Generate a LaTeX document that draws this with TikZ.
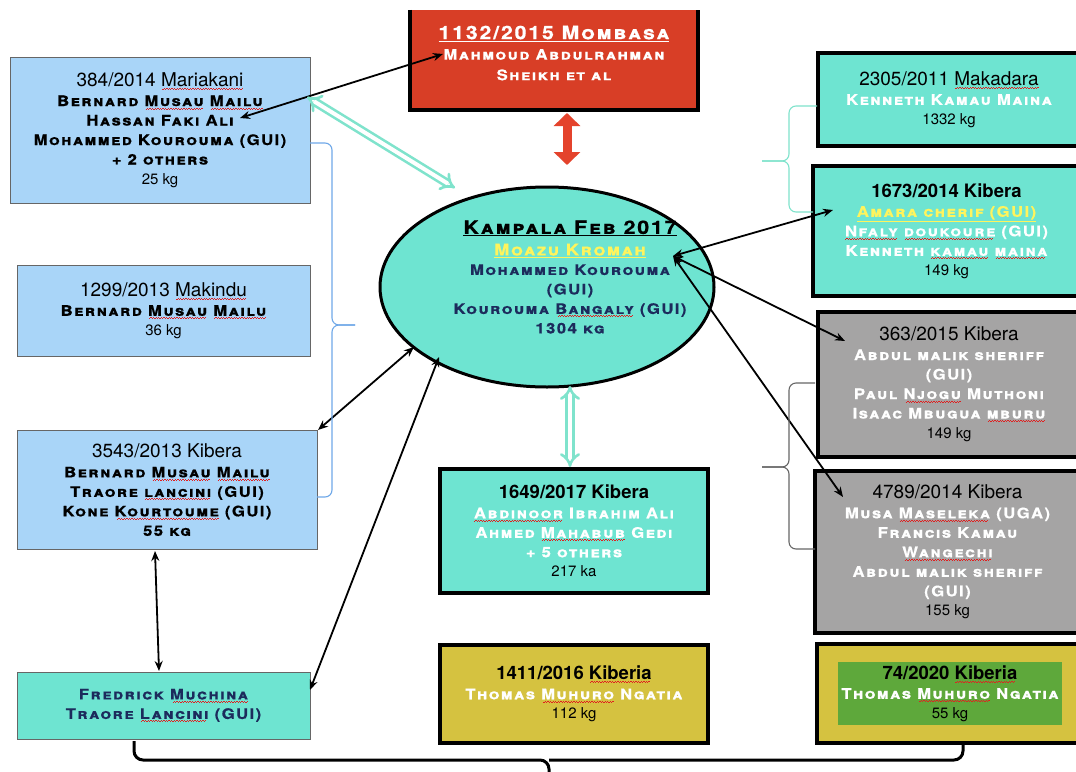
\documentclass[tikz,border=0pt]{standalone}
\usepackage{fontspec}
\usetikzlibrary{arrows.meta,shapes.geometric}
\setmainfont{TeX Gyre Heros}
\newfontfamily\cpf{TeX Gyre Heros}[Letters=SmallCaps,LetterSpace=10,FakeStretch=1.15,FakeBold=0.6]
\definecolor{lblue}{HTML}{A9D5F8}
\definecolor{tealc}{HTML}{6EE4D1}
\definecolor{redc}{HTML}{D83E26}
\definecolor{redl}{HTML}{E4432C}
\definecolor{grayc}{HTML}{A5A4A4}
\definecolor{olive}{HTML}{D5C240}
\definecolor{greenc}{HTML}{5EA83B}
\definecolor{yel}{HTML}{FFF45C}
\definecolor{navy}{HTML}{1C2B5C}
\definecolor{tealln}{HTML}{7FE3CC}
\definecolor{blueln}{HTML}{6FA8E8}
\definecolor{sqred}{HTML}{E02020}
\newsavebox\sqbox
\newcommand\wv{\hbox{\rule[-3.2pt]{1.3pt}{0.7pt}\rule[-2.2pt]{1.3pt}{0.7pt}}}
\newcommand\sq[1]{\sbox\sqbox{#1}\rlap{\usebox\sqbox}{\color{sqred}\leaders\wv\hskip\wd\sqbox}}
\newcommand\ul[1]{\underline{#1}}
\newcommand\ttl{\normalfont\color{black}\fontsize{19}{19.5}\selectfont}
\newcommand\ttlb{\normalfont\bfseries\color{black}\fontsize{18.5}{19.5}\selectfont}
\newcommand\kgf{\normalfont\color{black}\fontsize{15}{19.5}\selectfont}
\newcommand\nmf{\cpf\bfseries\fontsize{14.5}{19.5}\selectfont}
\begin{document}
\begin{tikzpicture}[x=1pt,y=-1pt,
  lb/.style={draw=black!60, line width=1, fill=lblue, inner sep=0, align=center, font=\nmf, text=black},
  tb/.style={draw=black, line width=4, fill=tealc, inner sep=0, align=center, font=\nmf, text=white},
  gb/.style={draw=black, line width=4, fill=grayc, inner sep=0, align=center, font=\nmf, text=white},
  ob/.style={draw=black, line width=4, fill=olive, inner sep=0, align=center, font=\nmf, text=white},
  arr/.style={line width=1.8, {Stealth[length=10pt,width=8pt]}-{Stealth[length=10pt,width=8pt]}},
  hollow/.style={draw=tealln, double=white, double distance=4pt, line width=2.6, {Implies[scale=1.6]}-{Implies[scale=1.6]}},
  brc/.style={rounded corners=7, line width=1.1}]
\useasboundingbox (0,0) rectangle (1076,771);
\fill[white] (0,0) rectangle (1076,771);

% boxes
\node[lb, minimum width=300, minimum height=146] (mar) at (160,130)
 {{\ttl 384/2014 \sq{Mariakani}}\\ Bernard \sq{Musau} \sq{Mailu}\\ Hassan Faki Ali\\ Mohammed Kourouma (GUI)\\ + 2 others\\ {\kgf 25 kg}};

\node[fill=redc, minimum width=288, minimum height=100, inner sep=0] (mom) at (554,60) {};
\draw[line width=4] (mom.north west) -- (mom.south west) -- (mom.south east) -- (mom.north east);
\node[align=center, text=white, font=\nmf, inner sep=0] (momt) at (554,53)
 {{\fontsize{18.5}{21}\selectfont\ul{1132/2015 Mombasa}}\\[1pt] Mahmoud Abdulrahman\\[1pt] Sheikh et al};

\node[tb, minimum width=262, minimum height=93] (mak) at (949,99.5)
 {{\ttl 2305/2011 \sq{Makadara}}\\ Kenneth Kamau Maina\\ {\kgf 1332 kg}};

\node[tb, minimum width=267, minimum height=130] (k1673) at (946.5,231)
 {{\ttlb 1673/2014 Kibera}\\ {\color{yel}\ul{Amara cherif (GUI)}}\\ \sq{Nfaly} \sq{doukoure} (GUI)\\ Kenneth \sq{kamau} \sq{maina}\\ {\kgf 149 kg}};

\node[gb, minimum width=262, minimum height=145] (k363) at (949,384)
 {{\ttl 363/2015 Kibera}\\ Abdul malik sheriff\\ (GUI)\\ Paul \sq{Njogu} Muthoni\\ Isaac Mbugua \sq{mburu}\\ {\kgf 149 kg}};

\node[gb, minimum width=265, minimum height=162] (k4789) at (947.5,552)
 {{\ttl 4789/2014 Kibera}\\ Musa \sq{Maseleka} (UGA)\\ Francis Kamau\\ \sq{Wangechi}\\ Abdul malik sheriff\\ (GUI)\\ {\kgf 155 kg}};

\node[lb, minimum width=293, minimum height=91] (mkd) at (163.5,310.5)
 {{\ttl 1299/2013 \sq{Makindu}}\\ Bernard \sq{Musau} \sq{Mailu}\\ {\kgf 36 kg}};

\node[lb, minimum width=300, minimum height=119] (k3543) at (167,490)
 {{\ttl 3543/2013 Kibera}\\ Bernard \sq{Musau} \sq{Mailu}\\ Traore \sq{lancini} (GUI)\\ Kone \sq{Kourtoume} (GUI)\\ 55 kg};

\node[lb, fill=tealc, text=navy, minimum width=293, minimum height=67] (fred) at (163.5,705.5)
 {Fredrick \sq{Muchina}\\ Traore \sq{Lancini} (GUI)};

\node[tb, minimum width=268, minimum height=124] (k1649) at (574,531)
 {{\ttlb 1649/2017 Kibera}\\ \sq{Abdinoor} Ibrahim Ali\\ Ahmed \sq{Mahabub} Gedi\\ + 5 others\\ {\kgf 217 ka}};

\node[ob, minimum width=268, minimum height=98] (k1411) at (574,694)
 {{\ttlb 1411/2016 \sq{Kiberia}}\\ Thomas \sq{Muhuro} Ngatia\\ {\kgf 112 kg}};

\node[ob, minimum width=263, minimum height=99] (k74) at (948.5,693.5) {};
\node[fill=greenc, inner sep=0, minimum width=224, minimum height=63, align=center, font=\nmf, text=white] (k74in) at (950,693.5)
 {{\ttlb 74/2020 \sq{Kiberia}}\\ Thomas \sq{Muhuro} Ngatia\\ {\kgf 55 kg}};

% ellipse
\node[ellipse, draw=black, line width=3, fill=tealc, minimum width=334, minimum height=200, inner sep=0] (ell) at (547,287) {};
\node[align=center, font=\nmf, text=navy, inner sep=0] (ellt) at (570,277)
 {{\color{black}\fontsize{18.5}{20}\selectfont\ul{Kampala Feb 2017}}\\[2pt]
  {\color{yel}\fontsize{16}{19}\selectfont\ul{Moazu Kromah}}\\
  Mohammed Kourouma\\ (GUI)\\ Kourouma \sq{Bangaly} (GUI)\\ 1304 kg};

% coordinates
\coordinate (pmar) at (240,118);
\coordinate (pmom) at (443,54);
\coordinate (hm1) at (307,97);
\coordinate (he1) at (455,188);
\coordinate (r1) at (567,113);
\coordinate (r2) at (567,165);
\coordinate (p3543) at (318,430);
\coordinate (e3543) at (414,347);
\coordinate (pfred) at (310,690);
\coordinate (efred) at (439,357);
\coordinate (b3543) at (155,551);
\coordinate (tfred) at (159,671);
\coordinate (eb) at (570,386);
\coordinate (t1649) at (570,467);
\coordinate (ek) at (673,256);
\coordinate (p1673) at (833,210);
\coordinate (p363) at (845,341);
\coordinate (p4789) at (843,497);

% connectors
\draw[arr] (pmar) -- (pmom);
\draw[hollow] (hm1) -- (he1);
\draw[line width=9, draw=redl, {Triangle[length=13pt,width=26pt]}-{Triangle[length=13pt,width=26pt]}] (r1) -- (r2);
\draw[arr] (p3543) -- (e3543);
\draw[arr] (pfred) -- (efred);
\draw[arr] (b3543) -- (tfred);
\draw[hollow] (eb) -- (t1649);
\draw[arr] (ek) -- (p1673);
\draw[arr] (ek) -- (p363);
\draw[arr] (ek) -- (p4789);

% braces
\draw[brc, blueln] (310,143) -- (332,143) -- (332,325) -- (355,325);
\draw[brc, blueln] (355,325) -- (332,325) -- (332,497) -- (317,497);
\draw[brc, tealln] (817,106) -- (789,106) -- (789,161) -- (762,161);
\draw[brc, tealln] (762,161) -- (789,161) -- (789,212) -- (813,212);
\draw[brc, black!60] (815,383) -- (789,383) -- (789,467) -- (762,467);
\draw[brc, black!60] (762,467) -- (789,467) -- (789,549) -- (815,549);
\draw[rounded corners=9, line width=3] (134,741) -- (134,760) -- (549,760) -- (549,772);
\draw[rounded corners=9, line width=3] (549,760) -- (963,760) -- (963,743);
\end{tikzpicture}
\end{document}
